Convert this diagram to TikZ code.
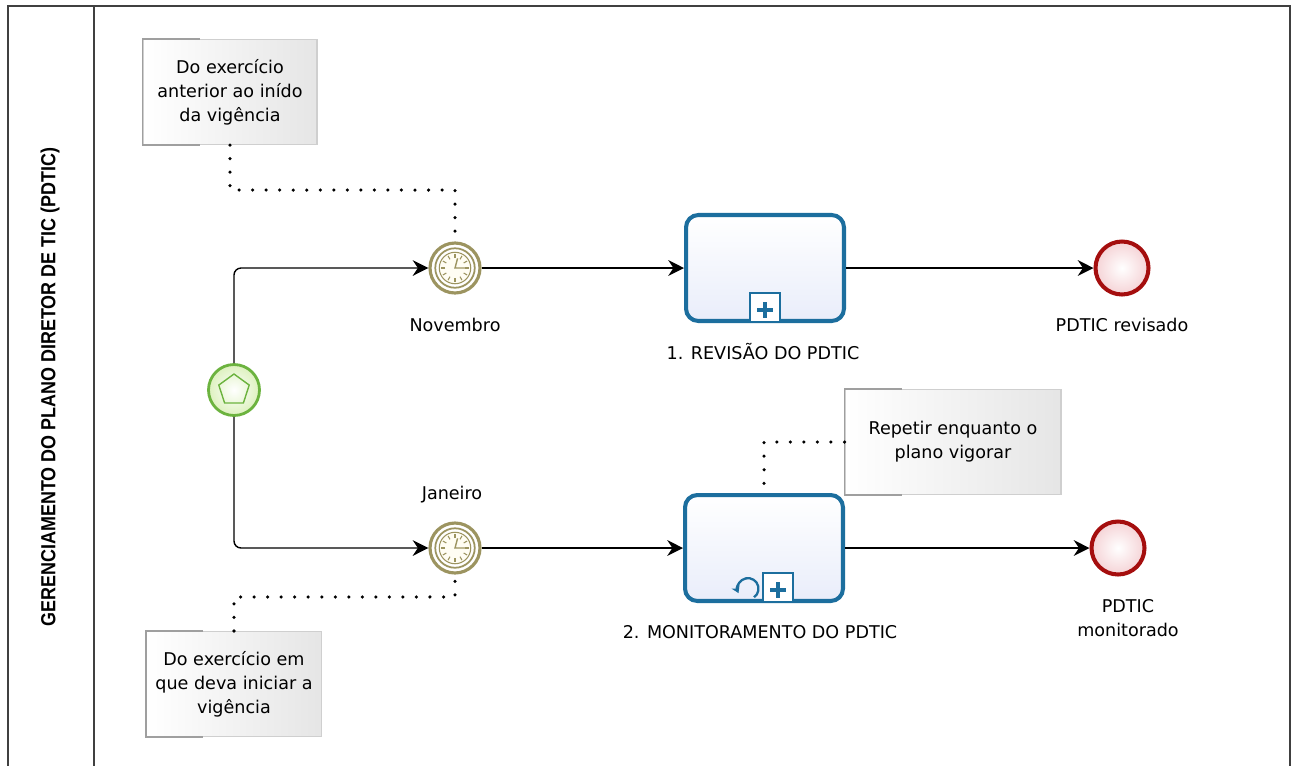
\documentclass[tikz,border=0pt]{standalone}
\usepackage{fontspec}
\setmainfont{DejaVu Sans}
\newfontfamily\lanefont[FakeStretch=0.88]{Liberation Sans}
\usepackage{xcolor}
\usetikzlibrary{arrows.meta, shapes.geometric, positioning}
\definecolor{startgreen}{HTML}{6CB33F}
\definecolor{startfill}{HTML}{DDF1BE}
\definecolor{timerolive}{HTML}{9C9460}
\definecolor{timerfill}{HTML}{FFFDF3}
\definecolor{taskblue}{HTML}{1C6E9E}
\definecolor{taskfill}{HTML}{E9EDFA}
\definecolor{endred}{HTML}{A50E0E}
\definecolor{endfill}{HTML}{F5D3D6}
\definecolor{notegray}{HTML}{CFCFCF}
\definecolor{framegray}{HTML}{404040}

\begin{document}
\begin{tikzpicture}[x = 0.02cm, y = -0.02cm,
			> = {Stealth[length=9pt, width=9pt, inset=3pt]},
			font = \fontsize{10}{13.6}\selectfont,
			flow/.style = {->, line width=0.8pt, rounded corners=4pt},
			assoc/.style = {line width=2pt, dash pattern=on 0pt off 7.7pt, line cap=round},
			startev/.style = {circle, draw=startgreen, line width=1.6pt, inner color=white, outer color=startfill, minimum size=1.02cm},
			timerev/.style = {circle, draw=timerolive, line width=1.8pt, fill=white, minimum size=1cm},
			endev/.style = {circle, draw=endred, line width=2.3pt, inner color=white, outer color=endfill, minimum size=1.06cm},
			subproc/.style = {draw=taskblue, line width=2.3pt, rounded corners=7pt, top color=white, bottom color=taskfill, minimum width=3.16cm, minimum height=2.12cm},
			marker/.style = {draw=taskblue, line width=1pt, fill=white, minimum width=0.6cm, minimum height=0.58cm, anchor=south},
			note/.style = {draw=notegray, line width=0.6pt, left color=white, right color=gray!20, minimum height=2.1cm, align=center}]
			% bounding box and lane
			\useasboundingbox (0,0) rectangle (1294,765);
			\draw[framegray, line width=1.2pt] (8,770) -- (8,6) -- (1290,6) -- (1290,770)
			(94,6) -- (94,770);
			\node[rotate=90, font=\lanefont\bfseries\fontsize{11.6}{12}\selectfont] (lane) at (50,387) {GERENCIAMENTO DO PLANO DIRETOR DE TIC (PDTIC)};
			%
			% events and tasks
			\node[startev] (start) at (234,390) {};
			\node[regular polygon, regular polygon sides=5, draw=startgreen, line width=0.8pt, inner sep=0pt, minimum size=0.64cm] (penta) at (start.center) {};
			\node[timerev] (tnov) at (455,268) {};
			\node[timerev] (tjan) at (455,548) {};
			\node[subproc] (rev) at (765,268) {};
			\node[subproc] (mon) at (764,548) {};
			\node[endev] (endrev) at (1122,268) {};
			\node[endev] (endmon) at (1118,548) {};
			%
			\foreach \t in {tnov, tjan} {
				\draw[timerolive, line width=1pt] (\t.center) circle (0.395cm);
				\draw[timerolive, line width=0.6pt, fill=timerfill] (\t.center) circle (0.315cm);
				\foreach \a in {0,30,...,330}
					\draw[timerolive, line width=0.6pt] ([shift={(\a:0.2cm)}]\t.center) -- ([shift={(\a:0.28cm)}]\t.center);
				\draw[timerolive, line width=0.8pt] ([shift={(0:0.21cm)}]\t.center) -- (\t.center) -- ([shift={(75:0.2cm)}]\t.center);
			}
			%
			\node[marker] (mrev) at (rev.south) {};
			\node[marker] (mmon) at ([xshift=0.28cm]mon.south) {};
			\foreach \m in {mrev, mmon}
				\draw[taskblue, line width=2.4pt] ([xshift=-0.16cm, yshift=-0.04cm]\m.center) -- ([xshift=0.16cm, yshift=-0.04cm]\m.center)
				([yshift=-0.2cm]\m.center) -- ([yshift=0.12cm]\m.center);
			\coordinate (loop) at ([xshift=-0.6cm, yshift=-0.02cm]mmon.center);
			\draw[taskblue, line width=1.3pt, -{Stealth[length=4pt, width=5pt]}] ([shift={(-55:0.21cm)}]loop) arc[start angle=-55, end angle=205, radius=0.21cm];
			%
			% labels
			\node (lnov) at (455,325) {Novembro};
			\node (ljan) at (452,495) {Janeiro};
			\node (lrev) at (763,352) {1. REVISÃO DO PDTIC};
			\node (lmon) at (760,632) {2. MONITORAMENTO DO PDTIC};
			\node (lendrev) at (1122,325) {PDTIC revisado};
			\node[align=center] (lendmon) at (1128,618) {PDTIC\\monitorado};
			%
			% annotations
			\node[note, minimum width=3.48cm] (note1) at (230,92) {Do exercício\\anterior ao inído\\da vigência};
			\node[note, minimum width=4.32cm] (note2) at (953,442) {Repetir enquanto o\\plano vigorar};
			\node[note, minimum width=3.5cm] (note3) at (234,684) {Do exercício em\\que deva iniciar a\\vigência};
			\foreach \n in {note1, note2, note3}
				\draw[gray!75, line width=0.8pt] ([xshift=1.15cm]\n.north west) -- (\n.north west) -- (\n.south west) -- ([xshift=1.15cm]\n.south west);
			%
			% sequence flows
			\draw[flow] (start.north) |- (tnov.west);
			\draw[flow] (start.south) |- (tjan.west);
			\draw[flow] (tnov.east) -- (rev.west);
			\draw[flow] (tjan.east) -- (mon.west);
			\draw[flow] (rev.east) -- (endrev.west);
			\draw[flow] (mon.east) -- (endmon.west);
			%
			% associations
			\draw[assoc] (note1.south) -- ++(0,45) -| (tnov.north);
			\draw[assoc] (note2.west) -| (mon.north);
			\draw[assoc] (note3.north) -- ++(0,-34) -| (tjan.south);
		\end{tikzpicture}
\end{document}
